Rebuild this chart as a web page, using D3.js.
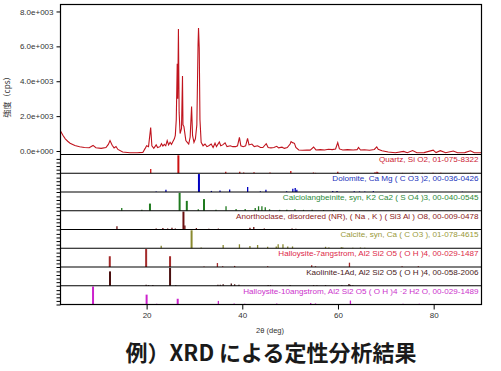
<!DOCTYPE html>
<html>
<head>
<meta charset="utf-8">
<script src="https://cdn.jsdelivr.net/npm/d3@7"></script>
<style>
  body { margin: 0; background: #fff; }
  svg { display: block; font-family: "Liberation Sans", Arial, sans-serif; }
</style>
</head>
<body>
<div id="chart"></div>
<script>
// measured pattern: 2theta (deg) and intensity (cps)
const mainTwoTheta = [2.0, 2.5, 3.0, 3.5, 4.0, 5.0, 6.0, 7.0, 8.0, 8.8, 9.4, 10.5, 11.5, 12.0, 12.35, 12.8, 13.2, 13.6, 14.0, 15.0,
  16.5, 18.0, 19.2, 19.7, 20.0, 20.4, 20.85, 21.1, 21.5, 22.0, 22.3, 22.8, 23.1, 23.4, 23.7, 24.0, 24.3, 24.6, 24.9, 25.2,
  25.5, 25.8, 26.0, 26.2, 26.4, 26.5, 26.65, 26.8, 27.0, 27.3, 27.5, 27.6, 27.8, 28.0, 28.2, 28.5, 28.8, 29.1, 29.4, 29.6,
  29.9, 30.2, 30.5, 30.75, 30.85, 31.0, 31.15, 31.4, 31.8, 32.2, 32.6, 33.0, 33.5, 33.9, 34.3, 34.6, 35.2, 35.5, 35.9, 36.4,
  36.8, 37.5, 38.0, 38.6, 39.0, 39.4, 39.7, 40.2, 40.7, 41.1, 41.4, 42.0, 42.5, 43.2, 43.8, 44.3, 45.0, 45.4, 46.0, 46.6,
  47.2, 47.6, 48.3, 48.8, 49.4, 50.0, 50.2, 50.5, 50.9, 51.2, 51.8, 52.6, 53.5, 54.2, 54.9, 55.4, 56.3, 57.2, 58.0, 58.8,
  59.5, 59.95, 60.3, 61.0, 62.0, 63.2, 64.0, 64.3, 64.7, 65.5, 66.6, 67.6, 68.1, 68.4, 69.2, 70.5, 72.0, 73.7, 74.5, 75.6,
  76.5, 78.0, 79.9, 80.5, 81.4, 82.5, 84.1, 85.0, 86.5, 87.7, 88.5, 90.0];
const mainCps = [1150, 900, 700, 560, 450, 320, 240, 200, 190, 320, 190, 150, 200, 380, 600, 330, 180, 260, 90, -60,
  -100, -100, -80, 150, 300, 250, 1350, 300, 150, 350, 200, 250, 420, 280, 380, 300, 600, 350, 500, 380,
  550, 700, 900, 1800, 5000, 3000, 7000, 2200, 1000, 1300, 4300, 1500, 1400, 1000, 600, 500, 400, 800, 2550, 900,
  500, 700, 1500, 6100, 7050, 5900, 1800, 500, 300, 400, 250, 300, 400, 200, 450, 250, 520, 300, 350, 470,
  250, 300, 250, 250, 300, 780, 300, 250, 300, 720, 350, 400, 250, 300, 200, 200, 420, 200, 180, 200,
  270, 180, 220, 150, 200, 400, 540, 480, 440, 200, 60, 40, 60, 50, 230, 60, 80, 60, 100, 80,
  120, 480, 120, 60, 80, 60, 80, 200, 60, 70, 40, 90, 240, 100, 20, -60, -100, -20, -100, 30,
  -100, -90, 50, -90, 20, -100, 0, -100, -90, 10, -100, -100];

// reference patterns: stick positions (deg) and relative heights (%)
const quartzAngles = [20.86, 26.64, 36.54, 39.47, 40.29, 42.45, 45.79, 50.14, 54.87, 55.33, 59.96, 64.03, 67.74, 68.14, 68.32, 73.47, 75.66, 77.67, 79.88, 81.17, 81.49, 83.84, 87.72];
const quartzHeights = [24, 100, 8, 8, 4, 6, 4, 13, 4, 2, 9, 2, 6, 8, 6, 2, 3, 2, 3, 2, 3, 2, 2];
const dolomiteAngles = [22.0, 24.04, 30.94, 33.54, 35.34, 37.36, 41.12, 43.78, 44.94, 49.26, 50.56, 51.06, 51.4, 58.9, 59.8, 63.4, 64.5, 65.6, 67.4, 76.8, 86.0];
const dolomiteHeights = [3, 12, 100, 6, 8, 14, 28, 4, 12, 4, 18, 22, 12, 6, 5, 4, 3, 3, 5, 2, 2];
const calciolangAngles = [14.8, 19.0, 20.7, 26.9, 28.4, 30.8, 32.0, 34.5, 36.6, 38.7, 40.6, 42.7, 43.4, 44.1, 44.8, 45.7, 47.8, 49.3, 51.0, 52.8, 54.6, 57.0, 59.1];
const calciolangHeights = [15, 5, 40, 100, 55, 8, 65, 6, 25, 10, 10, 15, 25, 25, 20, 8, 5, 6, 8, 5, 6, 4, 4];
const anorthoclaseAngles = [13.8, 22.0, 23.4, 24.4, 25.3, 26.0, 27.7, 28.0, 30.4, 33.0, 35.0, 41.6, 42.4, 44.6, 50.4, 51.2];
const anorthoclaseHeights = [18, 6, 8, 6, 10, 6, 100, 22, 8, 4, 5, 10, 14, 6, 6, 4];
const calciteAngles = [23.05, 29.4, 31.4, 36.0, 39.4, 41.6, 43.2, 45.3, 47.1, 47.5, 48.5, 49.5, 50.5, 57.4, 58.1, 60.7, 61.0, 63.1, 64.7, 65.6];
const calciteHeights = [14, 100, 4, 18, 22, 12, 18, 8, 10, 22, 22, 10, 10, 8, 4, 6, 4, 3, 4, 3];
const halloysite7Angles = [12.3, 19.9, 24.9, 32.0, 34.8, 35.9, 38.4, 45.3, 54.5, 55.3, 62.4, 73.4, 76.8];
const halloysite7Heights = [60, 100, 60, 3, 22, 4, 6, 4, 10, 4, 24, 4, 4];
const kaoliniteAngles = [12.35, 19.9, 20.4, 21.3, 24.9, 26.1, 34.9, 35.4, 36.0, 37.7, 38.4, 39.3, 45.4, 45.9, 50.0, 54.9, 55.6, 57.4, 60.8, 62.3, 62.6, 63.1];
const kaoliniteHeights = [80, 5, 4, 4, 100, 3, 5, 6, 8, 12, 8, 6, 4, 4, 4, 4, 3, 4, 3, 10, 5, 3];
const halloysite10Angles = [8.8, 20.0, 22.1, 26.5, 35.0, 38.3, 40.5, 47.2, 54.3, 55.3, 62.6, 73.6, 77.0];
const halloysite10Heights = [100, 55, 4, 32, 20, 6, 4, 5, 8, 6, 22, 4, 4];

const phaseLabels = [
  "Quartz, Si O2, 01-075-8322",
  "Dolomite, Ca Mg ( C O3 )2, 00-036-0426",
  "Calciolangbeinite, syn, K2 Ca2 ( S O4 )3, 00-040-0545",
  "Anorthoclase, disordered (NR), ( Na , K ) ( Si3 Al ) O8, 00-009-0478",
  "Calcite, syn, Ca ( C O3 ), 01-078-4615",
  "Halloysite-7angstrom, Al2 Si2 O5 ( O H )4, 00-029-1487",
  "Kaolinite-1Ad, Al2 Si2 O5 ( O H )4, 00-058-2006",
  "Halloysite-10angstrom, Al2 Si2 O5 ( O H )4 \u00b72 H2 O, 00-029-1489"
];
const yTicks = [0, 2000, 4000, 6000, 8000];
const xTicks = [20, 40, 60, 80];

var W = 501, H = 371;
var mLeft = 60.5, mRight = 481.5, mTop = 4.5, mainBottom = 154.5, mBottom = 304.5;

var phases = [
  {a: quartzAngles, h: quartzHeights, stick: "#cc1111", text: "#cc2233"},
  {a: dolomiteAngles, h: dolomiteHeights, stick: "#0000c0", text: "#2233bb"},
  {a: calciolangAngles, h: calciolangHeights, stick: "#1f7a1f", text: "#2e8b3a"},
  {a: anorthoclaseAngles, h: anorthoclaseHeights, stick: "#6b0f0f", text: "#8b1a1a"},
  {a: calciteAngles, h: calciteHeights, stick: "#8a8a30", text: "#9a9a3a"},
  {a: halloysite7Angles, h: halloysite7Heights, stick: "#a32a2a", text: "#dd2a48"},
  {a: kaoliniteAngles, h: kaoliniteHeights, stick: "#4a1010", text: "#4a1a1a"},
  {a: halloysite10Angles, h: halloysite10Heights, stick: "#cc22cc", text: "#cc33cc"}
];
phases.forEach(function(p, i){ p.label = phaseLabels[i]; });

var svg = d3.select("#chart").append("svg")
    .attr("width", W)
    .attr("height", H);

var x = d3.scaleLinear().domain([2, 90]).range([mLeft, mRight]);
var y = d3.scaleLinear().domain([-200, 8400]).range([mainBottom, mTop]);

svg.append("clipPath").attr("id", "mainclip")
  .append("rect").attr("x", mLeft).attr("y", mTop).attr("width", mRight - mLeft).attr("height", mainBottom - mTop);

// main pattern
var pts = mainTwoTheta.map(function(t, i){ return [t, mainCps[i]]; });
svg.append("path")
    .datum(pts)
    .attr("clip-path", "url(#mainclip)")
    .attr("fill", "none")
    .attr("stroke", "#c0141e")
    .attr("stroke-width", 1.1)
    .attr("d", d3.line().x(function(d){ return x(d[0]); }).y(function(d){ return y(d[1]); }));

function expFmt(v){
  if (v == 0) return "0.0e+000";
  var e = Math.floor(Math.log10(v));
  return (v / Math.pow(10, e)).toFixed(1) + "e+" + String(e).padStart(3, "0");
}

var yAxis = svg.append("g")
    .attr("transform", "translate(" + mLeft + ",0)")
    .call(d3.axisLeft(y).tickValues(yTicks).tickSize(4).tickPadding(3).tickFormat(expFmt));
yAxis.select(".domain").remove();
yAxis.selectAll("text").attr("font-size", 8).attr("fill", "#333").attr("font-family", "Liberation Sans, Arial, sans-serif");

// sub panels with sticks
var panelH = (mBottom - mainBottom) / phases.length;
phases.forEach(function(p, i){
  var pTop = mainBottom + i * panelH, pBot = pTop + panelH;
  var py = d3.scaleLinear().domain([0, 100]).range([pBot, pTop + 0.8]);
  var g = svg.append("g");
  g.selectAll("line")
    .data(p.a.map(function(a, k){ return [a, p.h[k]]; }))
    .enter().append("line")
      .attr("x1", function(d){ return x(d[0]); })
      .attr("x2", function(d){ return x(d[0]); })
      .attr("y1", py(0))
      .attr("y2", function(d){ return py(d[1]); })
      .attr("stroke", p.stick)
      .attr("stroke-width", function(d){ return d[1] > 30 ? 2 : 1.3; });
  var ax = svg.append("g")
    .attr("transform", "translate(" + mLeft + ",0)")
    .call(d3.axisLeft(py).tickValues([0, 20, 40, 60, 80]).tickSize(4).tickFormat(""));
  ax.select(".domain").remove();
  svg.append("line")
    .attr("x1", mLeft).attr("x2", mRight)
    .attr("y1", pTop).attr("y2", pTop)
    .attr("stroke", "#000").attr("stroke-width", 1.2);
  svg.append("text")
    .attr("x", mRight - 3)
    .attr("y", pTop + 7.8)
    .attr("text-anchor", "end")
    .attr("font-size", 8.1)
    .attr("fill", p.text)
    .text(p.label);
});

// frame
svg.append("rect")
    .attr("x", mLeft).attr("y", mTop)
    .attr("width", mRight - mLeft).attr("height", mBottom - mTop)
    .attr("fill", "none").attr("stroke", "#000").attr("stroke-width", 1.2);

var xAxis = svg.append("g")
    .attr("transform", "translate(0," + mBottom + ")")
    .call(d3.axisBottom(x).tickValues(xTicks).tickSize(5).tickPadding(3));
xAxis.select(".domain").remove();
xAxis.selectAll("text").attr("font-size", 8).attr("fill", "#333").attr("font-family", "Liberation Sans, Arial, sans-serif");

svg.append("text")
    .attr("x", 270).attr("y", 333)
    .attr("text-anchor", "middle")
    .attr("font-size", 7.5)
    .attr("fill", "#333")
    .text("2\u03b8 (deg)");

svg.append("text")
    .attr("transform", "translate(10,95) rotate(-90)")
    .attr("text-anchor", "middle")
    .attr("font-size", 8)
    .attr("fill", "#333")
    .attr("font-family", "Noto Sans CJK JP, sans-serif")
    .text("強度（cps）");

svg.append("text")
    .attr("x", 271).attr("y", 361)
    .attr("text-anchor", "middle")
    .attr("font-size", 22)
    .attr("font-weight", "bold")
    .attr("fill", "#1a1a1a")
    .attr("font-family", "Noto Sans CJK JP, sans-serif")
    .text("例）XRD による定性分析結果");
</script>
</body>
</html>
